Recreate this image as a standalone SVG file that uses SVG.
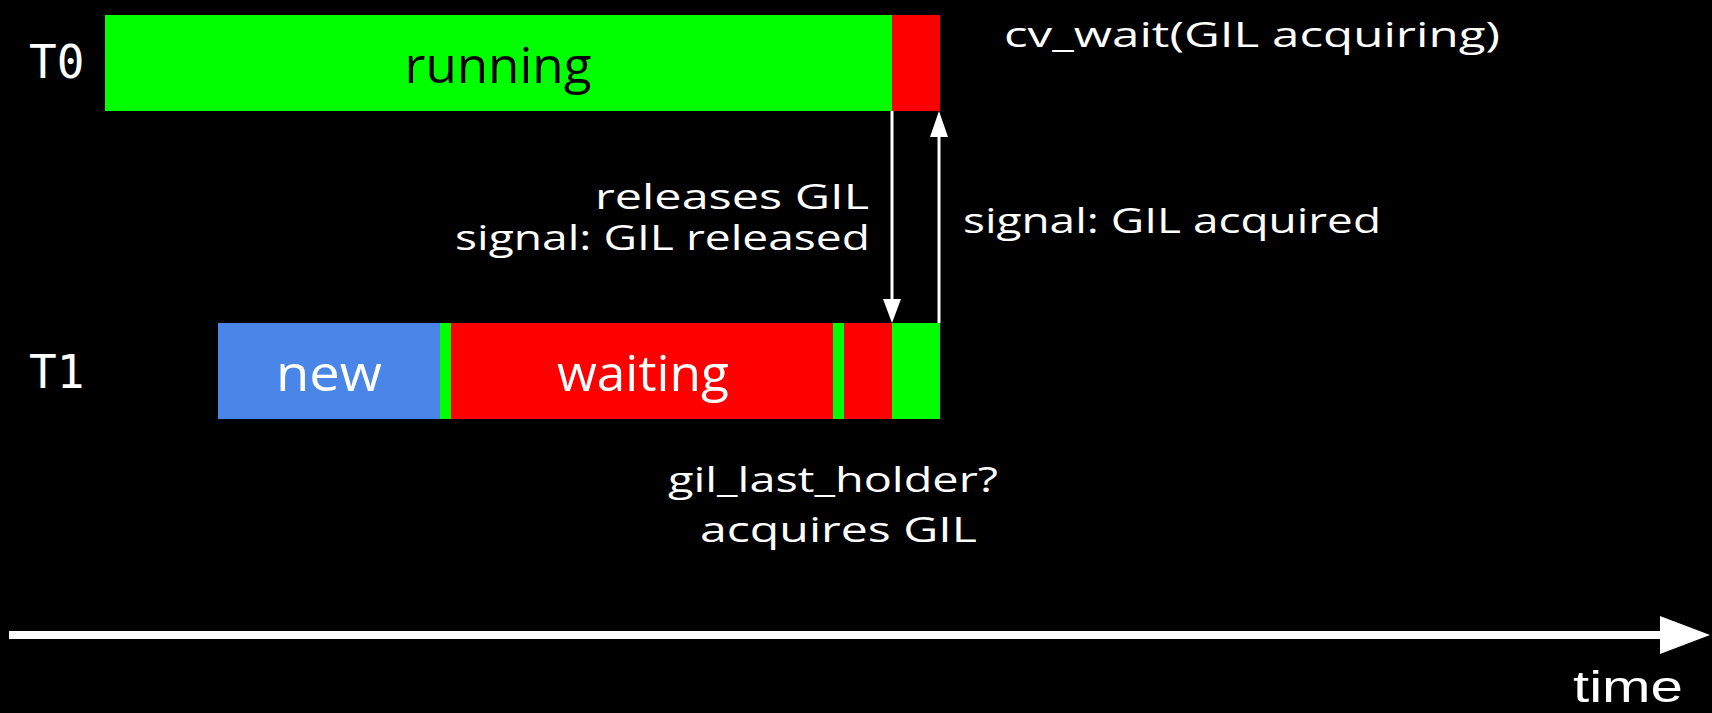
<svg xmlns="http://www.w3.org/2000/svg" width="1712" height="713" viewBox="0 0 1712 713">
  <defs>
    <style>
      .lbl { font-family: "Open Sans", "Liberation Sans", sans-serif; fill: #ffffff; }
      .big { font-size: 50px; }
      .note { font-size: 34px; }
      .tid { font-family: "DejaVu Sans Mono", "Liberation Mono", monospace; font-size: 46px; fill: #ffffff; }
      .run { fill: #00ff00; }
      .wait { fill: #ff0000; }
      .new { fill: #4a86e8; }
      .wire { stroke: #ffffff; stroke-width: 3; fill: none; }
      .head { fill: #ffffff; }
    </style>
  </defs>
  <rect width="1712" height="713" fill="#000000"/>

  <!-- thread T0 timeline -->
  <g id="t0">
    <text class="tid" x="29" y="78">T0</text>
    <rect class="run" x="105" y="15" width="787" height="96"/>
    <rect class="wait" x="892" y="15" width="48" height="96"/>
    <text class="lbl big" x="498" y="83" text-anchor="middle" style="fill:#000000" textLength="187" lengthAdjust="spacingAndGlyphs">running</text>
  </g>

  <!-- thread T1 timeline -->
  <g id="t1">
    <text class="tid" x="29" y="388">T1</text>
    <rect class="new" x="218" y="323" width="222" height="96"/>
    <rect class="run" x="440" y="323" width="11" height="96"/>
    <rect class="wait" x="451" y="323" width="382" height="96"/>
    <rect class="run" x="833" y="323" width="11" height="96"/>
    <rect class="wait" x="844" y="323" width="48" height="96"/>
    <rect class="run" x="892" y="323" width="48" height="96"/>
    <text class="lbl big" x="329" y="391" text-anchor="middle" textLength="106" lengthAdjust="spacingAndGlyphs">new</text>
    <text class="lbl big" x="643" y="391" text-anchor="middle" textLength="172" lengthAdjust="spacingAndGlyphs">waiting</text>
  </g>

  <!-- annotations -->
  <g id="notes">
    <text class="lbl note" x="1004" y="47" textLength="496" lengthAdjust="spacingAndGlyphs">cv_wait(GIL acquiring)</text>
    <text class="lbl note" x="869" y="209" text-anchor="end" textLength="274" lengthAdjust="spacingAndGlyphs">releases GIL</text>
    <text class="lbl note" x="870" y="250" text-anchor="end" textLength="415" lengthAdjust="spacingAndGlyphs">signal: GIL released</text>
    <text class="lbl note" x="963" y="233" textLength="418" lengthAdjust="spacingAndGlyphs">signal: GIL acquired</text>
    <text class="lbl note" x="668" y="492" textLength="330" lengthAdjust="spacingAndGlyphs">gil_last_holder?</text>
    <text class="lbl note" x="700" y="542" textLength="277" lengthAdjust="spacingAndGlyphs">acquires GIL</text>
  </g>

  <!-- signalling arrows between threads -->
  <g id="connectors">
    <line class="wire" x1="892" y1="111" x2="892" y2="302"/>
    <polygon class="head" points="883,299 901,299 892,323"/>
    <line class="wire" x1="939" y1="323" x2="939" y2="134"/>
    <polygon class="head" points="930,137 948,137 939,111"/>
  </g>

  <!-- time axis -->
  <g id="axis">
    <line x1="9" y1="635" x2="1662" y2="635" stroke="#ffffff" stroke-width="8"/>
    <polygon class="head" points="1660,616 1710,635 1660,654"/>
    <text x="1573" y="702" font-family="'Liberation Sans', sans-serif" font-size="44" fill="#ffffff" textLength="110" lengthAdjust="spacingAndGlyphs">time</text>
  </g>
</svg>
